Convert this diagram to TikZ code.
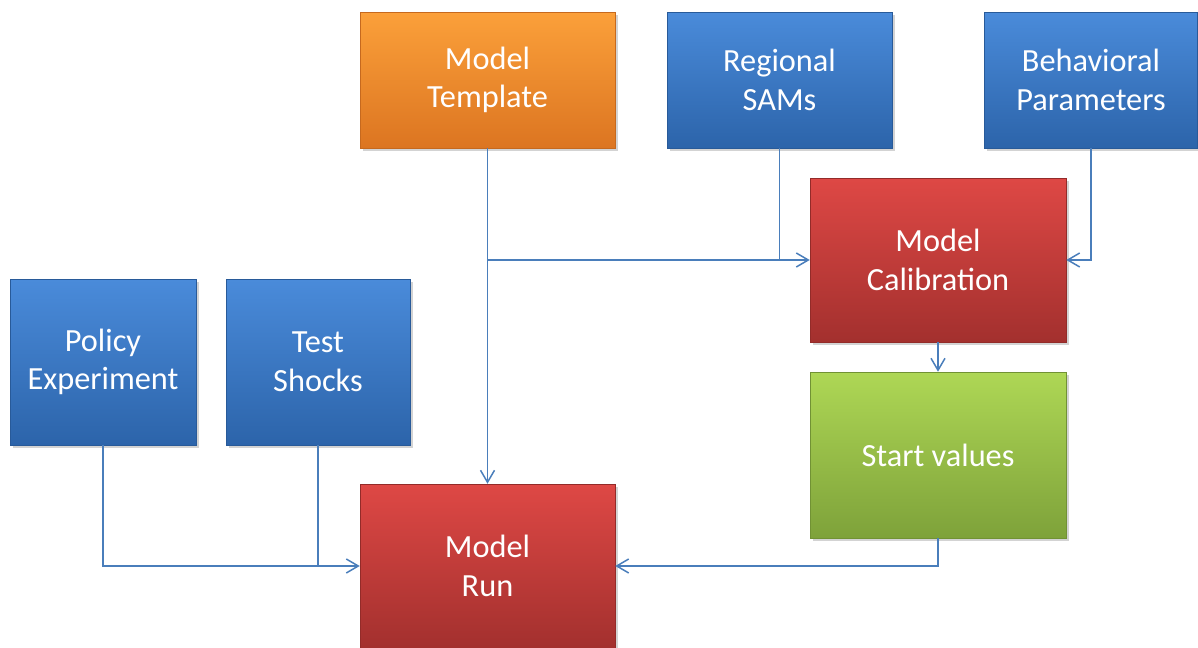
\documentclass[tikz,border=0pt]{standalone}
\usepackage{fontspec}
\setmainfont{Carlito}
\usepackage{tikz}
\usetikzlibrary{positioning,arrows.meta,shadows}
\usepackage{xcolor}
\definecolor{linkblue}{HTML}{4A7EBB}
\definecolor{orgtop}{HTML}{FBA03A}
\definecolor{orgbot}{HTML}{DC7521}
\definecolor{blutop}{HTML}{4A8BDA}
\definecolor{blubot}{HTML}{2C64AA}
\definecolor{redtop}{HTML}{DE4845}
\definecolor{redbot}{HTML}{A3302E}
\definecolor{grntop}{HTML}{AED755}
\definecolor{grnbot}{HTML}{7EA23A}

\begin{document}
\begin{tikzpicture}[x=0.02cm,y=-0.02cm,
  >={Straight Barb[length=2.4mm,width=2.8mm]},
  box/.style={rectangle,inner sep=2pt,align=center,text=white,
    font=\fontsize{18.4}{22}\selectfont,
    drop shadow={opacity=0.35,shadow xshift=1.5pt,shadow yshift=-1.5pt}},
  orangebox/.style={box,top color=orgtop,bottom color=orgbot,draw=orgbot!90!black,line width=0.3pt},
  bluebox/.style={box,top color=blutop,bottom color=blubot,draw=blubot!90!black,line width=0.3pt},
  redbox/.style={box,top color=redtop,bottom color=redbot,draw=redbot!90!black,line width=0.3pt},
  greenbox/.style={box,top color=grntop,bottom color=grnbot,draw=grnbot!90!black,line width=0.3pt},
  link/.style={draw=linkblue,line width=0.85pt}]
\useasboundingbox (0,0) rectangle (1198,648);

% inputs on top
\node[orangebox,minimum width=5.1cm,minimum height=2.72cm] (tmpl) at (487.5,80) {Model\\Template};
\node[bluebox,minimum width=4.5cm,minimum height=2.72cm] (sams) at (779.5,80) {Regional\\SAMs};
\node[bluebox,minimum width=4.26cm,minimum height=2.72cm] (behav) at (1091,80) {Behavioral\\Parameters};

% calibration branch
\node[redbox,minimum width=5.12cm,minimum height=3.28cm] (calib) at (938,260) {Model\\Calibration};
\node[greenbox,minimum width=5.12cm,minimum height=3.32cm] (start) at (938,455) {Start values};

% experiments
\node[bluebox,minimum width=3.72cm,minimum height=3.32cm] (policy) at (103,362) {Policy\\Experiment};
\node[bluebox,minimum width=3.68cm,minimum height=3.32cm] (shocks) at (318,362) {Test\\Shocks};

\node[redbox,minimum width=5.1cm,minimum height=3.28cm] (run) at (487.5,566) {Model\\Run};

% connectors
\draw[link,->] (tmpl.south) -- (run.north);
\draw[link,->] (tmpl.south |- calib.west) -- (calib.west);
\draw[link] (sams.south) -- (sams.south |- calib.west);
\draw[link,->] (behav.south) |- (calib.east);
\draw[link,->] (calib) -- (start);
\draw[link,->] (start.south) |- (run.east);
\draw[link,->] (policy.south) |- (run.west);
\draw[link] (shocks.south) -- (shocks.south |- run.west);
\end{tikzpicture}
\end{document}
